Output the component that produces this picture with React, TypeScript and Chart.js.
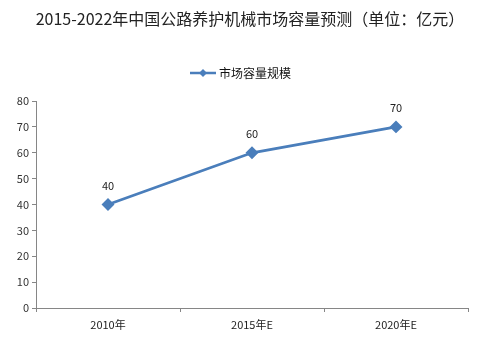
import React, { useEffect, useRef } from "react";
import { Chart, registerables } from "chart.js";

Chart.register(...registerables);

const categories = ["2010年", "2015年E", "2020年E"];
const values = [40, 60, 70];
const seriesName = "市场容量规模";
const titleText = "2015-2022年中国公路养护机械市场容量预测（单位：亿元）";
const yTicks = [0, 10, 20, 30, 40, 50, 60, 70, 80];

const LINE_COLOR = "#4A7EBB";
const FONT = "'Noto Sans CJK SC', 'DejaVu Sans', sans-serif";

const overlayPlugin = {
  id: "overlay",
  afterDraw(chart: any) {
    const ctx = chart.ctx;
    ctx.save();
    // title
    ctx.fillStyle = "#222";
    ctx.font = `16px ${FONT}`;
    ctx.textAlign = "center";
    ctx.textBaseline = "middle";
    ctx.fillText(titleText, 250, 19);
    // legend
    const ly = 73;
    ctx.strokeStyle = LINE_COLOR;
    ctx.lineWidth = 2.5;
    ctx.beginPath();
    ctx.moveTo(190, ly);
    ctx.lineTo(216, ly);
    ctx.stroke();
    ctx.fillStyle = LINE_COLOR;
    ctx.beginPath();
    ctx.moveTo(203, ly - 4);
    ctx.lineTo(207, ly);
    ctx.lineTo(203, ly + 4);
    ctx.lineTo(199, ly);
    ctx.closePath();
    ctx.fill();
    ctx.fillStyle = "#111";
    ctx.font = `12px ${FONT}`;
    ctx.textAlign = "left";
    ctx.fillText(seriesName, 219, ly);
    // data labels
    const meta = chart.getDatasetMeta(0);
    ctx.font = `11px ${FONT}`;
    ctx.textAlign = "center";
    ctx.fillStyle = "#222";
    meta.data.forEach((pt: any, i: number) => {
      ctx.fillText(String(values[i]), pt.x, pt.y - 19);
    });
    ctx.restore();
  },
};

export default function App() {
  const ref = useRef<HTMLCanvasElement>(null);
  useEffect(() => {
    document.body.style.margin = "0";
    const chart = new Chart(ref.current!, {
      type: "line",
      data: {
        labels: categories,
        datasets: [
          {
            label: seriesName,
            data: values,
            borderColor: LINE_COLOR,
            backgroundColor: LINE_COLOR,
            borderWidth: 2.8,
            pointStyle: "rectRot",
            pointRadius: 4.5,
            pointBackgroundColor: LINE_COLOR,
            pointBorderColor: LINE_COLOR,
            tension: 0,
          },
        ],
      },
      options: {
        animation: false,
        responsive: false,
        layout: { padding: { top: 101, right: 12, left: 0, bottom: 0 } },
        plugins: {
          legend: { display: false },
          title: { display: false },
          tooltip: { enabled: false },
        },
        scales: {
          x: {
            offset: true,
            grid: {
              offset: true,
              drawOnChartArea: false,
              drawTicks: true,
              tickLength: 4,
              color: "#868686",
            },
            border: { color: "#868686" },
            ticks: { color: "#222", font: { size: 11, family: FONT }, padding: 6 },
            afterFit(scale: any) {
              scale.height = 33;
            },
          },
          y: {
            min: 0,
            max: 80,
            afterBuildTicks(scale: any) {
              scale.ticks = yTicks.map((v) => ({ value: v }));
            },
            grid: {
              drawOnChartArea: false,
              drawTicks: true,
              tickLength: 4,
              color: "#868686",
            },
            border: { color: "#868686" },
            ticks: { color: "#333", font: { size: 11, family: FONT }, padding: 3 },
            afterFit(scale: any) {
              scale.width = 36;
            },
          },
        },
      },
      plugins: [overlayPlugin],
    });
    return () => chart.destroy();
  }, []);
  return (
    <div style={{ width: 480, height: 341, background: "#fff" }}>
      <canvas ref={ref} width={480} height={341} />
    </div>
  );
}
